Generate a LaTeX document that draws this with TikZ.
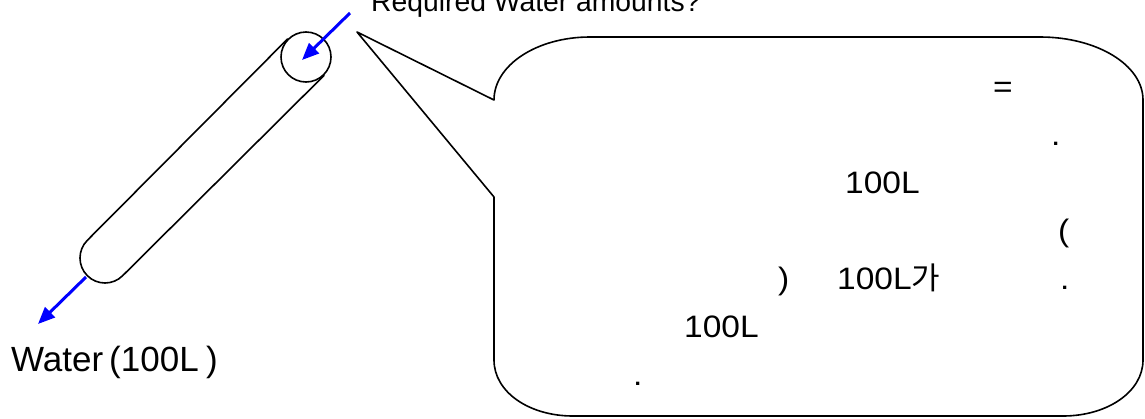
\documentclass[tikz,border=0pt]{standalone}
\usepackage{fontspec}
\setmainfont{Liberation Sans}
\newfontfamily\kr{Noto Sans CJK KR}
\newfontfamily\bubfont[FakeStretch=1.08]{Liberation Sans}
\usetikzlibrary{arrows.meta,calc}
\tikzset{
  outline/.style={draw=black,line width=1.6pt,line join=round},
  bluearrow/.style={draw=blue,line width=3pt,-{Triangle[length=17pt,width=14pt]}},
  bubtext/.style={anchor=base west,inner sep=0pt,font=\bubfont\fontsize{31}{36}\selectfont},
  label/.style={anchor=base west,inner sep=0pt},
}
\begin{document}
\begin{tikzpicture}[x=1pt,y=-1pt]
\useasboundingbox (0,0) rectangle (1145,418);
% pipe
\node[circle,outline,minimum size=50pt,inner sep=0pt] (cap) at (306,57) {};
\coordinate (bot) at (105,258);
\draw[outline] (cap.135) -- ($(bot)+(-17.68,-17.68)$) arc[start angle=225,end angle=45,radius=25] -- (cap.-45);
% arrows
\coordinate (in1) at (350,13);
\coordinate (in2) at (302,60);
\coordinate (out1) at (86,277);
\coordinate (out2) at (38,324);
\draw[bluearrow] (in1) -- (in2);
\draw[bluearrow] (out1) -- (out2);
% labels
\node[label,font=\fontsize{28.3}{34}\selectfont] (req) at (371,11) {Required Water amounts?};
\node[label,font=\fontsize{35}{42}\selectfont] (water) at (11,371) {Water\hspace{6pt}(100L\hspace{7.5pt})};
% bubble
\coordinate (tip) at (357,32);
\draw[outline] (494,197) -- (tip) -- (494,100)
  .. controls (494,65) and (537,37) .. (590,37)
  -- (1040,37)
  .. controls (1097,37) and (1143,65) .. (1143,100)
  -- (1143,360)
  .. controls (1143,392) and (1107,416) .. (1063,416)
  -- (573,416)
  .. controls (529,416) and (494,392) .. (494,360)
  -- cycle;
% bubble text
\node[bubtext] (t1) at (993,97) {=};
\node[bubtext] (t2) at (1051,145) {.};
\node[bubtext] (t3) at (845,193) {100L};
\node[bubtext] (t4) at (1058,241) {(};
\node[bubtext] (t5a) at (778,289) {)};
\node[bubtext] (t5b) at (837,289) {100L{\kr 가}};
\node[bubtext] (t5c) at (1060,289) {.};
\node[bubtext] (t6) at (684,337) {100L};
\node[bubtext] (t7) at (633,385) {.};
\end{tikzpicture}
\end{document}
